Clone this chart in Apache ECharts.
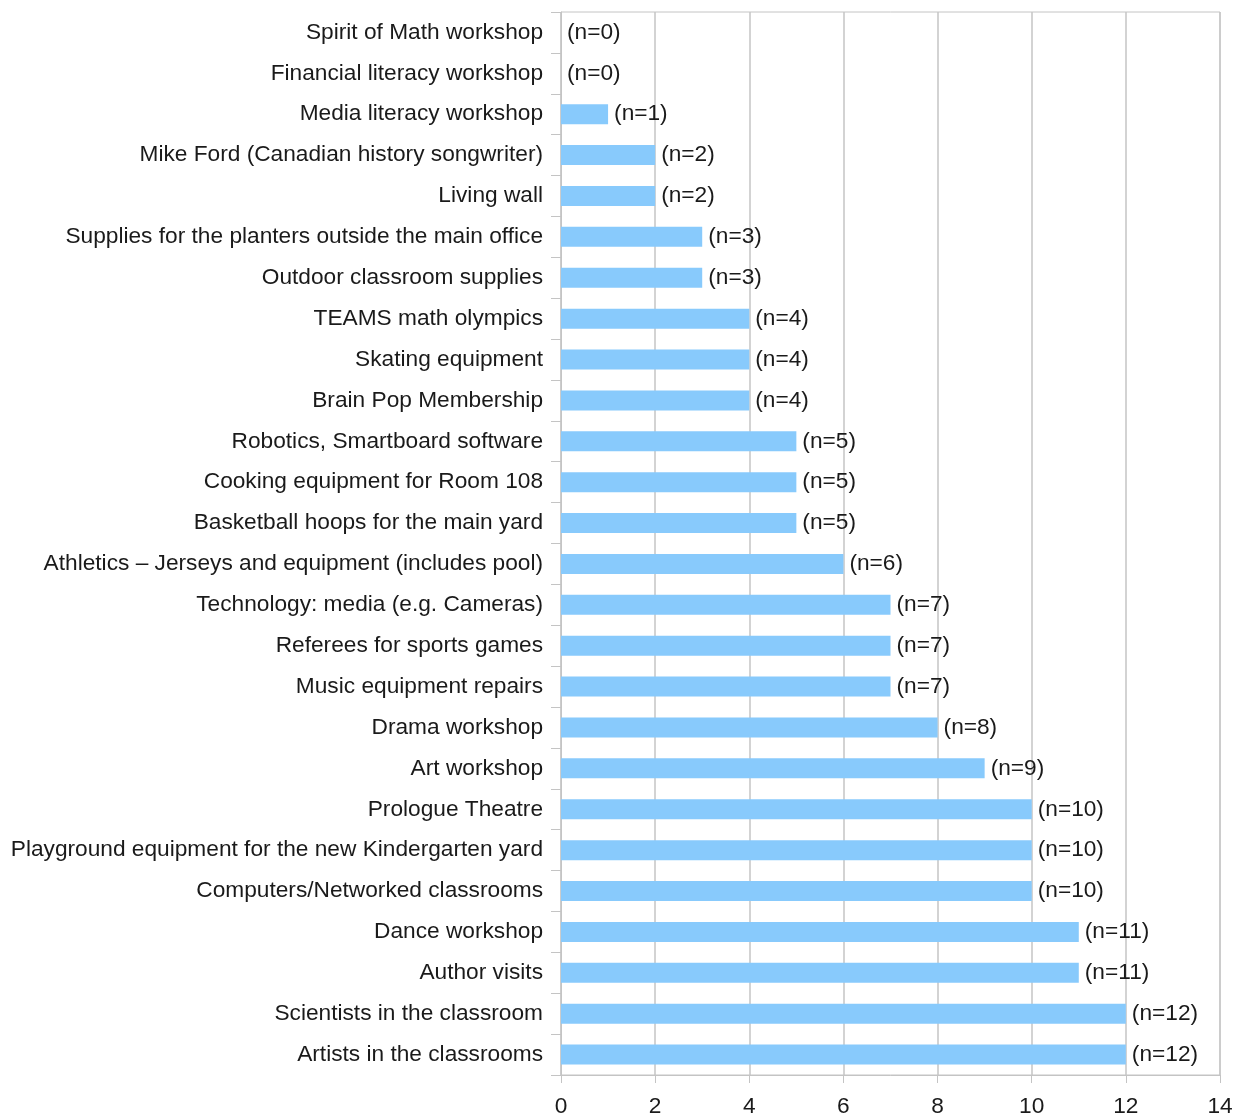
<!DOCTYPE html>
<html>
<head>
<meta charset="utf-8">
<style>html,body{margin:0;padding:0;background:#fff}#c{width:1238px;height:1116px}</style>
<script src="https://cdn.jsdelivr.net/npm/echarts@6/dist/echarts.min.js"></script>
</head>
<body>
<div id="c"></div>
<script>
var categories = [
  "Spirit of Math workshop",
  "Financial literacy workshop",
  "Media literacy workshop",
  "Mike Ford (Canadian history songwriter)",
  "Living wall",
  "Supplies for the planters outside the main office",
  "Outdoor classroom supplies",
  "TEAMS math olympics",
  "Skating equipment",
  "Brain Pop Membership",
  "Robotics, Smartboard software",
  "Cooking equipment for Room 108",
  "Basketball hoops for the main yard",
  "Athletics \u2013 Jerseys and equipment (includes pool)",
  "Technology: media (e.g. Cameras)",
  "Referees for sports games",
  "Music equipment repairs",
  "Drama workshop",
  "Art workshop",
  "Prologue Theatre",
  "Playground equipment for the new Kindergarten yard",
  "Computers/Networked classrooms",
  "Dance workshop",
  "Author visits",
  "Scientists in the classroom",
  "Artists in the classrooms"
];
var counts = [0,0,1,2,2,3,3,4,4,4,5,5,5,6,7,7,7,8,9,10,10,10,11,11,12,12];
var xTicks = [0,2,4,6,8,10,12,14];

var chart = echarts.init(document.getElementById('c'), null, {renderer:'canvas'});
var font = '"Liberation Sans", Arial, sans-serif';
var gridColor = '#c4c4c4';
var fs = 22.7;
chart.setOption({
  animation: false,
  backgroundColor: '#ffffff',
  grid: {left: 561, right: 18, top: 12, bottom: 41, show: true, borderColor: gridColor, borderWidth: 1, containLabel: false, outerBoundsMode: 'none'},
  xAxis: {
    type: 'value', min: xTicks[0], max: xTicks[xTicks.length-1], interval: 2,
    axisLine: {show: true, lineStyle: {color: gridColor, width: 1}},
    axisTick: {show: true, length: 8, lineStyle: {color: gridColor}},
    splitLine: {show: true, lineStyle: {color: gridColor, width: 1.5}},
    axisLabel: {color: '#1a1a1a', fontSize: fs, fontFamily: font, margin: 20}
  },
  yAxis: {
    type: 'category', data: categories, inverse: true,
    axisLine: {show: true, lineStyle: {color: gridColor, width: 1}},
    axisTick: {show: true, length: 10, alignWithLabel: false, lineStyle: {color: gridColor}},
    axisLabel: {color: '#1a1a1a', fontSize: fs, fontFamily: font, margin: 18, interval: 0, padding: [4, 0, 0, 0]}
  },
  series: [{
    type: 'bar', data: counts, barWidth: 20,
    itemStyle: {color: '#88cafc'},
    label: {show: true, position: 'right', distance: 6, formatter: '(n={c})', color: '#1a1a1a', fontSize: fs, fontFamily: font, padding: [4, 0, 0, 0]}
  }]
});
</script>
</body>
</html>
